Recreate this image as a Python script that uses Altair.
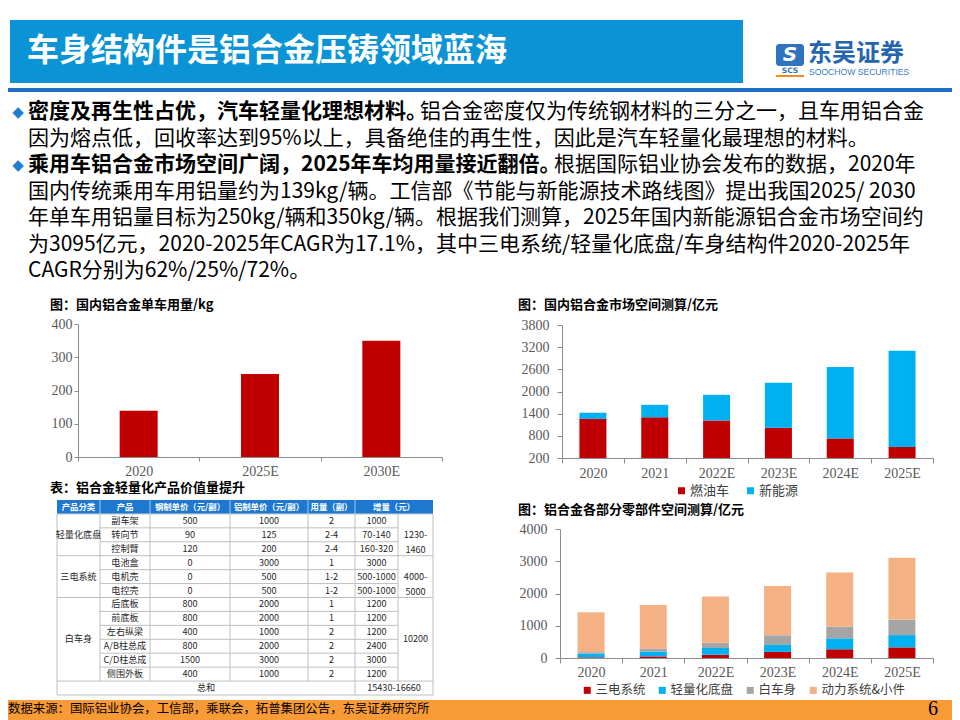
import altair as alt
import pandas as pd
import numpy as np

# ---------------- text content ----------------
slide_title = "车身结构件是铝合金压铸领域蓝海"
bold_parts = ["密度及再生性占优，汽车轻量化理想材料。",
              "乘用车铝合金市场空间广阔，2025年车均用量接近翻倍。"]
bold_lines = [0, 2]
cont_parts = ["铝合金密度仅为传统钢材料的三分之一，且车用铝合金",
              "根据国际铝业协会发布的数据，2020年"]
plain_lines = [
    "因为熔点低，回收率达到95%以上，具备绝佳的再生性，因此是汽车轻量化最理想的材料。",
    "国内传统乘用车用铝量约为139kg/辆。工信部《节能与新能源技术路线图》提出我国2025/ 2030",
    "年单车用铝量目标为250kg/辆和350kg/辆。根据我们测算，2025年国内新能源铝合金市场空间约",
    "为3095亿元，2020-2025年CAGR为17.1%，其中三电系统/轻量化底盘/车身结构件2020-2025年",
    "CAGR分别为62%/25%/72%。",
]
plain_idx = [1, 3, 4, 5, 6]
source_text = "数据来源：国际铝业协会，工信部，乘联会，拓普集团公告，东吴证券研究所"
page_no = "6"

# ---------------- chart 1 ----------------
c1_title = "图：国内铝合金单车用量/kg"
c1_years = ["2020", "2025E", "2030E"]
c1_values = [139, 250, 350]

# ---------------- chart 2 ----------------
c2_title = "图：国内铝合金市场空间测算/亿元"
c2_years = ["2020", "2021", "2022E", "2023E", "2024E", "2025E"]
c2_series = ["燃油车", "新能源"]
c2_fuel = [1260, 1300, 1215, 1020, 730, 500]
c2_nev = [165, 340, 695, 1215, 1935, 2600]

# ---------------- chart 3 ----------------
c3_title = "图：铝合金各部分零部件空间测算/亿元"
c3_years = ["2020", "2021", "2022E", "2023E", "2024E", "2025E"]
c3_series = ["三电系统", "轻量化底盘", "白车身", "动力系统&小件"]
c3_sandian = [20, 50, 100, 190, 270, 330]
c3_dipan = [120, 150, 210, 215, 340, 380]
c3_baichesheng = [40, 90, 160, 300, 360, 480]
c3_dongli = [1240, 1350, 1440, 1530, 1680, 1920]

# ---------------- table ----------------
tbl_title = "表：铝合金轻量化产品价值量提升"
tbl_headers = ["产品分类", "产品", "钢制单价（元/副）", "铝制单价（元/副）", "用量（副）", "增量（元）"]
products = ["副车架", "转向节", "控制臂", "电池盒", "电机壳", "电控壳",
            "后底板", "前底板", "左右纵梁", "A/B柱总成", "C/D柱总成", "侧围外板"]
steel = ["500", "90", "120", "0", "0", "0", "800", "800", "400", "800", "1500", "400"]
alu = ["1000", "125", "200", "3000", "500", "500", "2000", "2000", "1000", "2000", "3000", "1000"]
qty = ["2", "2-4", "2-4", "1", "1-2", "1-2", "1", "1", "2", "2", "2", "2"]
incr = ["1000", "70-140", "160-320", "3000", "500-1000", "500-1000",
        "1200", "1200", "1200", "2400", "3000", "1200"]
groups = ["轻量化底盘", "三电系统", "白车身"]
group_sizes = [3, 3, 6]
group_totals = ["1230-\n1460", "4000-\n5000", "10200"]
total_label = "总和"
total_value = "15430-16660"

# ---------------- layout (chart pixel coords) ----------------
W, H = 944, 712
CJK = "Noto Sans CJK SC"
SERIF = "Liberation Serif"
RED, BLUE, GRAY, PEACH = "#C00000", "#00B0F0", "#A5A5A5", "#F4B183"
col_edges = [49, 92, 142, 222, 300, 347, 390, 425]
PARA_FS = 21
TBL_FS = 9.1


def seg_center(a, b):
    return float(np.interp((col_edges[a] + col_edges[b]) / 2.0, col_edges, list(range(len(col_edges)))))


one = pd.DataFrame({"a": [0]})


def deco_rect(x, x2, y, y2, color, **kw):
    return alt.Chart(one).mark_rect(color=color, **kw).encode(
        x=alt.value(x), x2=alt.value(x2), y=alt.value(y), y2=alt.value(y2))


def deco_text(txt, x, y, **kw):
    return alt.Chart(one).mark_text(text=txt, baseline="middle", **kw).encode(
        x=alt.value(x), y=alt.value(y))


layers = []

# header
layers.append(deco_rect(2, 735, 12, 75, "#0A94D6"))
layers.append(deco_text(slide_title, 19, 43, align="left", font=CJK, fontSize=32,
                        fontWeight="bold", color="white"))
layers.append(deco_rect(0, W, 80, 84, "#1C6FC4"))
# logo
layers.append(deco_rect(768, 796, 36, 58, "#2E72C0", cornerRadius=3))
layers.append(deco_text("S", 782, 47, align="center", font="DejaVu Sans", fontSize=20,
                        fontWeight="bold", fontStyle="italic", color="white"))
layers.append(deco_text("SCS", 782, 63, align="center", font="DejaVu Sans", fontSize=7.5,
                        fontWeight="bold", color="#2E72C0"))
layers.append(deco_rect(768, 796, 67, 69, "#F08C1E"))
layers.append(deco_text("东吴证券", 800, 46, align="left", font=CJK, fontSize=24,
                        fontWeight="bold", color="#2465B0"))
layers.append(deco_text("SOOCHOW SECURITIES", 801, 64, align="left", font="Liberation Sans",
                        fontSize=8.6, color="#3A7CC0"))

# paragraphs
para_y = alt.Scale(domain=[0, 6], range=[104, 263], nice=False, zero=False)
bold_df = pd.DataFrame({"line": bold_lines, "t": bold_parts})
cont_df = pd.DataFrame({"line": bold_lines, "t": cont_parts})
plain_df = pd.DataFrame({"line": plain_idx, "t": plain_lines})
layers.append(alt.Chart(bold_df).mark_text(text="◆", align="center", baseline="middle",
                                           font="DejaVu Sans", fontSize=15, color="#1F80D0").encode(
    x=alt.value(10), y=alt.Y("line:Q", scale=para_y, axis=None)))
layers.append(alt.Chart(bold_df).mark_text(align="left", baseline="middle", font=CJK, fontSize=PARA_FS,
                                           fontWeight="bold", color="black").encode(
    x=alt.value(20), y=alt.Y("line:Q", scale=para_y, axis=None), text="t:N"))
layers.append(alt.Chart(cont_df).transform_filter("datum.line == 0").mark_text(
    align="left", baseline="middle", font=CJK, fontSize=PARA_FS, color="black").encode(
    x=alt.value(412), y=alt.Y("line:Q", scale=para_y, axis=None), text="t:N"))
layers.append(alt.Chart(cont_df).transform_filter("datum.line == 2").mark_text(
    align="left", baseline="middle", font=CJK, fontSize=PARA_FS, color="black").encode(
    x=alt.value(546), y=alt.Y("line:Q", scale=para_y, axis=None), text="t:N"))
layers.append(alt.Chart(plain_df).mark_text(align="left", baseline="middle", font=CJK, fontSize=PARA_FS,
                                            color="black").encode(
    x=alt.value(20), y=alt.Y("line:Q", scale=para_y, axis=None), text="t:N"))

# chart titles
for t, x, y in [(c1_title, 42, 297), (c2_title, 510, 297), (c3_title, 510, 502), (tbl_title, 42, 480)]:
    layers.append(deco_text(t, x, y, align="left", font=CJK, fontSize=13, fontWeight="bold", color="black"))

axis_common = dict(title=None, grid=False, labelFont=SERIF, labelFontSize=14, labelColor="#595959",
                   domainColor="#8C8C8C", tickColor="#8C8C8C", format="d")
xaxis_common = dict(title=None, grid=False, labelFont=SERIF, labelFontSize=14, labelColor="#595959",
                    domainColor="#8C8C8C", tickColor="#8C8C8C")

# chart 1
df1 = pd.DataFrame({"year": c1_years, "v": c1_values})
layers.append(alt.Chart(df1).mark_bar(size=38, color=RED).encode(
    x=alt.X("year:N", sort=c1_years,
            scale=alt.Scale(range=[70, 434], paddingInner=0, paddingOuter=0),
            axis=alt.Axis(orient="bottom", offset=449 - H, tickBand="extent", tickSize=4,
                          labelPadding=3, labelAngle=0, **xaxis_common)),
    y=alt.Y("v:Q", scale=alt.Scale(domain=[0, 400], range=[449, 316], nice=False),
            axis=alt.Axis(orient="left", offset=-70, values=[0, 100, 200, 300, 400], tickSize=4,
                          labelPadding=2, **axis_common)),
))

# chart 2
rows2 = []
for i, y in enumerate(c2_years):
    rows2.append({"year": y, "s": c2_series[0], "k": 0, "v": c2_fuel[i]})
    rows2.append({"year": y, "s": c2_series[1], "k": 1, "v": c2_nev[i]})
df2 = pd.DataFrame(rows2)
layers.append(alt.Chart(df2).mark_bar(size=27).encode(
    x=alt.X("year:N", sort=c2_years,
            scale=alt.Scale(range=[554, 925], paddingInner=0, paddingOuter=0),
            axis=alt.Axis(orient="bottom", offset=450 - H, tickBand="extent", tickSize=5,
                          labelPadding=3, labelAngle=0, **xaxis_common)),
    y=alt.Y("v:Q", stack="zero",
            scale=alt.Scale(domain=[200, 3800], range=[450, 317], nice=False, zero=False, clamp=True),
            axis=alt.Axis(orient="left", offset=-554, values=list(range(200, 3801, 600)), tickSize=5,
                          labelPadding=8, **axis_common)),
    color=alt.Color("s:N", scale=alt.Scale(domain=c2_series, range=[RED, BLUE]),
                    legend=alt.Legend(orient="none", legendX=667, legendY=476, direction="horizontal",
                                      title=None, symbolType="square", symbolSize=49,
                                      symbolStrokeWidth=0, labelFont=CJK, labelFontSize=13,
                                      labelColor="#404040", labelOffset=2, columnPadding=14,
                                      padding=0)),
    order=alt.Order("k:Q", sort="ascending"),
))

# chart 3
rows3 = []
for i, y in enumerate(c3_years):
    for k, (s, arr) in enumerate(zip(c3_series, [c3_sandian, c3_dipan, c3_baichesheng, c3_dongli])):
        rows3.append({"year": y, "s": s, "k": k, "v": arr[i]})
df3 = pd.DataFrame(rows3)
layers.append(alt.Chart(df3).mark_bar(size=27).encode(
    x=alt.X("year:N", sort=c3_years,
            scale=alt.Scale(range=[552, 925], paddingInner=0, paddingOuter=0),
            axis=alt.Axis(orient="bottom", offset=650 - H, tickBand="extent", tickSize=5,
                          labelPadding=2, labelAngle=0, **xaxis_common)),
    y=alt.Y("v:Q", stack="zero",
            scale=alt.Scale(domain=[0, 4000], range=[650, 521], nice=False),
            axis=alt.Axis(orient="left", offset=-552, values=list(range(0, 4001, 1000)), tickSize=5,
                          labelPadding=8, **axis_common)),
    color=alt.Color("s:N", scale=alt.Scale(domain=c3_series, range=[RED, BLUE, GRAY, PEACH]),
                    legend=alt.Legend(orient="none", legendX=573, legendY=676, direction="horizontal",
                                      title=None, symbolType="square", symbolSize=49,
                                      symbolStrokeWidth=0, labelFont=CJK, labelFontSize=12.5,
                                      labelColor="#404040", labelOffset=2, columnPadding=10,
                                      padding=0)),
    order=alt.Order("k:Q", sort="ascending"),
))

# table
tx = alt.Scale(domain=list(range(len(col_edges))), range=col_edges, nice=False, zero=False)
ty = alt.Scale(domain=[0, 14], range=[492, 687], nice=False, zero=False)

layers.append(alt.Chart(pd.DataFrame({"c0": [0], "c1": [7], "r0": [0], "r1": [1]})).mark_rect(
    color="#1E78D0").encode(
    x=alt.X("c0:Q", scale=tx, axis=None), x2="c1:Q",
    y=alt.Y("r0:Q", scale=ty, axis=None), y2="r1:Q"))

hl = [{"r": r, "c0": 0, "c1": 7} for r in [1, 4, 7, 13, 14]] + \
     [{"r": r, "c0": 1, "c1": 6} for r in [2, 3, 5, 6, 8, 9, 10, 11, 12]]
layers.append(alt.Chart(pd.DataFrame(hl)).mark_rule(color="#BFBFBF", strokeWidth=1).encode(
    x=alt.X("c0:Q", scale=tx, axis=None), x2="c1:Q", y=alt.Y("r:Q", scale=ty, axis=None)))
vl = [{"c": c, "r0": 1, "r1": 14} for c in [0, 5, 7]] + \
     [{"c": c, "r0": 1, "r1": 13} for c in [1, 2, 3, 4, 6]]
layers.append(alt.Chart(pd.DataFrame(vl)).mark_rule(color="#BFBFBF", strokeWidth=1).encode(
    x=alt.X("c:Q", scale=tx, axis=None), y=alt.Y("r0:Q", scale=ty, axis=None), y2="r1:Q"))
hs = [{"c": c, "r0": 0, "r1": 1} for c in [1, 2, 3, 4, 5]]
layers.append(alt.Chart(pd.DataFrame(hs)).mark_rule(color="#FFFFFF", strokeWidth=1, opacity=0.6).encode(
    x=alt.X("c:Q", scale=tx, axis=None), y=alt.Y("r0:Q", scale=ty, axis=None), y2="r1:Q"))

hdr_spans = [(0, 1), (1, 2), (2, 3), (3, 4), (4, 5), (5, 7)]
hdr_df = pd.DataFrame({"t": tbl_headers, "cx": [seg_center(a, b) for a, b in hdr_spans], "cy": 0.5})
layers.append(alt.Chart(hdr_df).mark_text(font=CJK, fontSize=8.4, fontWeight="bold", color="white",
                                          baseline="middle", align="center").encode(
    x=alt.X("cx:Q", scale=tx, axis=None), y=alt.Y("cy:Q", scale=ty, axis=None), text="t:N"))

body = []
for i in range(len(products)):
    for cx, arr in [(1.5, products), (2.5, steel), (3.5, alu), (4.5, qty), (5.5, incr)]:
        body.append({"t": arr[i], "cx": cx, "cy": i + 1.5})
start = 1
for g, n in zip(groups, group_sizes):
    body.append({"t": g, "cx": 0.5, "cy": start + n / 2.0})
    start += n
body.append({"t": total_label, "cx": seg_center(0, 5), "cy": 13.5})
body.append({"t": total_value, "cx": seg_center(5, 7), "cy": 13.5})
layers.append(alt.Chart(pd.DataFrame(body)).mark_text(font=CJK, fontSize=TBL_FS, color="#262626",
                                                      baseline="middle", align="center").encode(
    x=alt.X("cx:Q", scale=tx, axis=None), y=alt.Y("cy:Q", scale=ty, axis=None), text="t:N"))

tot_rows = []
start = 1
for n, tot in zip(group_sizes, group_totals):
    tot_rows.append({"t": tot, "cx": 6.5, "cy": start + n / 2.0})
    start += n
layers.append(alt.Chart(pd.DataFrame(tot_rows)).mark_text(font=CJK, fontSize=TBL_FS, color="#262626",
                                                          baseline="middle", align="center",
                                                          lineBreak="\n", lineHeight=15).encode(
    x=alt.X("cx:Q", scale=tx, axis=None), y=alt.Y("cy:Q", scale=ty, axis=None), text="t:N"))

# footer
layers.append(deco_rect(0, W, 692, H, "#F89A36"))
layers.append(deco_text(source_text, 0, 701, align="left", font=CJK, fontSize=12.4, color="black"))
layers.append(deco_text(page_no, 925, 701, align="center", font=SERIF, fontSize=20, color="black"))

chart = alt.layer(*layers).resolve_scale(
    x="independent", y="independent", color="independent"
).properties(
    width=W, height=H, padding=0, autosize=alt.AutoSizeParams(type="none")
).configure_view(stroke=None)

chart.save("out.html", embed_options={"renderer": "svg", "actions": False})
